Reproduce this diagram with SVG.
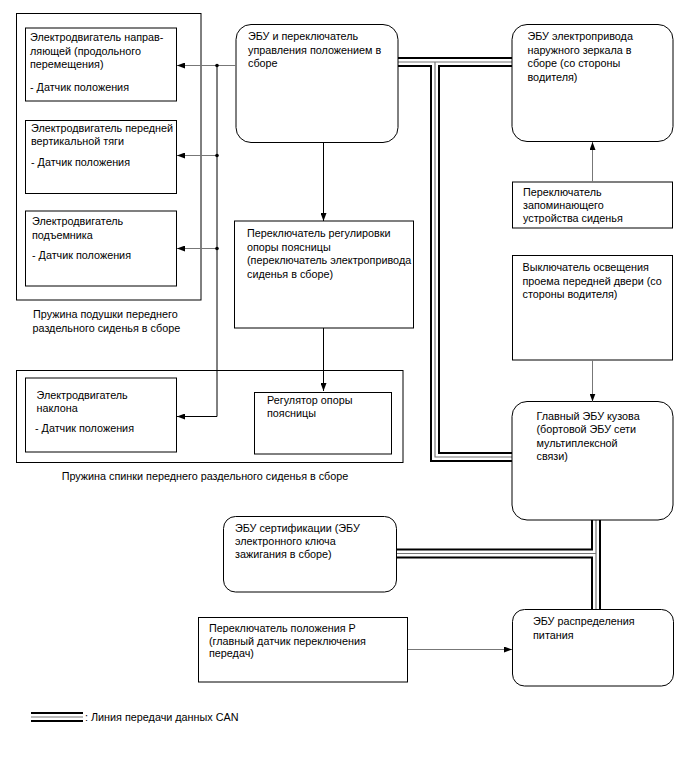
<svg xmlns="http://www.w3.org/2000/svg" width="691" height="757" viewBox="0 0 691 757">
<defs>
<style>
.box{fill:#fff;stroke:#000;stroke-width:1}
.frame{fill:none;stroke:#000;stroke-width:1}
.t{font-family:"Liberation Sans",Arial,sans-serif;font-size:10.8px;fill:#000}
.ln{fill:none;stroke:#000;stroke-width:1}
.lg{fill:none;stroke:#777;stroke-width:1}
.canO{fill:none;stroke:#000;stroke-width:10}
.canW{fill:none;stroke:#fff;stroke-width:6}
.canC{fill:none;stroke:#777;stroke-width:1.2}
</style>
<marker id="ah" viewBox="0 0 8 6" refX="8" refY="3" markerWidth="8" markerHeight="6" markerUnits="userSpaceOnUse" orient="auto"><path d="M0,0 L8,3 L0,6 Z" fill="#000"/></marker>
</defs>
<rect width="691" height="757" fill="#fff"/>

<g id="can-bus">
<path class="canO" d="M398,62 H512 M435,62 V457 H512 M397,553.5 H596 M596,520 V610"/>
<path class="canW" d="M398,62 H512 M435,62 V457 H512 M397,553.5 H596 M596,520 V610"/>
<path class="canC" d="M398,62 H512 M435,62 V457 H512 M397,553.5 H596 M596,520 V610"/>
</g>

<g id="cushion-assembly">
<rect class="frame" x="16.5" y="13.5" width="184.5" height="286.5"/>
<text class="t" x="33" y="318">Пружина подушки переднего</text>
<text class="t" x="32.5" y="332">раздельного сиденья в сборе</text>
</g>

<g id="slide-motor">
<rect class="box" x="25.5" y="28" width="151" height="73"/>
<text class="t" x="30" y="41">Электродвигатель направ-</text>
<text class="t" x="30" y="54.5">ляющей (продольного</text>
<text class="t" x="30" y="67.5">перемещения)</text>
<text class="t" x="30" y="91">- Датчик положения</text>
</g>

<g id="front-vertical-motor">
<rect class="box" x="25.5" y="120.5" width="151" height="73"/>
<text class="t" x="31" y="132">Электродвигатель передней</text>
<text class="t" x="31" y="145">вертикальной тяги</text>
<text class="t" x="31" y="166">- Датчик положения</text>
</g>

<g id="lifter-motor">
<rect class="box" x="25.5" y="211" width="151" height="75"/>
<text class="t" x="32" y="225">Электродвигатель</text>
<text class="t" x="32" y="238.5">подъемника</text>
<text class="t" x="32" y="258.5">- Датчик положения</text>
</g>

<g id="position-ecu">
<rect class="box" x="236" y="24.5" width="162" height="118" rx="15"/>
<text class="t" x="248" y="40">ЭБУ и переключатель</text>
<text class="t" x="248" y="54">управления положением в</text>
<text class="t" x="248" y="67">сборе</text>
</g>

<g id="lumbar-switch">
<rect class="box" x="234.5" y="221" width="179" height="107"/>
<text class="t" x="247" y="237">Переключатель регулировки</text>
<text class="t" x="247" y="250.5">опоры поясницы</text>
<text class="t" x="247" y="264">(переключатель электропривода</text>
<text class="t" x="247" y="277.5">сиденья в сборе)</text>
</g>

<g id="back-assembly">
<rect class="frame" x="16.5" y="370.5" width="386.5" height="92"/>
<text class="t" x="205" y="480" text-anchor="middle">Пружина спинки переднего раздельного сиденья в сборе</text>
</g>

<g id="recline-motor">
<rect class="box" x="25.5" y="378" width="151" height="74"/>
<text class="t" x="36.5" y="398.5">Электродвигатель</text>
<text class="t" x="36.5" y="412">наклона</text>
<text class="t" x="35" y="432">- Датчик положения</text>
</g>

<g id="lumbar-regulator">
<rect class="box" x="254.5" y="392.5" width="137" height="61.5"/>
<text class="t" x="267" y="403.5">Регулятор опоры</text>
<text class="t" x="267" y="417">поясницы</text>
</g>

<g id="mirror-ecu">
<rect class="box" x="512" y="24.5" width="161" height="117" rx="15"/>
<text class="t" x="527.5" y="40">ЭБУ электропривода</text>
<text class="t" x="527.5" y="54">наружного зеркала в</text>
<text class="t" x="527.5" y="67">сборе (со стороны</text>
<text class="t" x="527.5" y="80.5">водителя)</text>
</g>

<g id="memory-switch">
<rect class="box" x="512.5" y="182" width="160" height="46"/>
<text class="t" x="523" y="195.5">Переключатель</text>
<text class="t" x="523" y="209">запоминающего</text>
<text class="t" x="523" y="221.5">устройства сиденья</text>
</g>

<g id="door-switch">
<rect class="box" x="512.5" y="255.5" width="160" height="104.5"/>
<text class="t" x="522.5" y="270.5">Выключатель освещения</text>
<text class="t" x="522.5" y="284.5">проема передней двери (со</text>
<text class="t" x="522.5" y="298">стороны водителя)</text>
</g>

<g id="main-body-ecu">
<rect class="box" x="512" y="401.5" width="161" height="118.5" rx="15"/>
<text class="t" x="536.5" y="419.5">Главный ЭБУ кузова</text>
<text class="t" x="536.5" y="433">(бортовой ЭБУ сети</text>
<text class="t" x="536.5" y="446.5">мультиплексной</text>
<text class="t" x="536.5" y="460">связи)</text>
</g>

<g id="certification-ecu">
<rect class="box" x="223.5" y="516.5" width="173" height="75.5" rx="12"/>
<text class="t" x="235" y="532">ЭБУ сертификации (ЭБУ</text>
<text class="t" x="235" y="545">электронного ключа</text>
<text class="t" x="235" y="558">зажигания в сборе)</text>
</g>

<g id="p-switch">
<rect class="box" x="198.5" y="617.5" width="209" height="64.5"/>
<text class="t" x="209" y="632">Переключатель положения P</text>
<text class="t" x="209" y="644.5">(главный датчик переключения</text>
<text class="t" x="209" y="657">передач)</text>
</g>

<g id="power-ecu">
<rect class="box" x="512.5" y="609.5" width="161" height="76.5" rx="12"/>
<text class="t" x="533" y="625">ЭБУ распределения</text>
<text class="t" x="533" y="638.5">питания</text>
</g>

<g id="connectors">
<path class="lg" d="M236,65.5 H177" marker-end="url(#ah)"/>
<path class="lg" d="M217,155.5 H177" marker-end="url(#ah)"/>
<path class="lg" d="M217,248.5 H177" marker-end="url(#ah)"/>
<path class="ln" d="M217,65.5 V416.5 H177" marker-end="url(#ah)"/>
<circle cx="217" cy="65.5" r="1.8" fill="#000"/>
<circle cx="217" cy="155.5" r="1.8" fill="#000"/>
<circle cx="217" cy="248.5" r="1.8" fill="#000"/>
<path class="ln" d="M323.5,143 V221" marker-end="url(#ah)"/>
<path class="ln" d="M323.5,328 V391" marker-end="url(#ah)"/>
<path class="lg" d="M592.5,182 V142" marker-end="url(#ah)"/>
<path class="lg" d="M592.5,360 V401.5" marker-end="url(#ah)"/>
<path class="lg" d="M408,649.5 H512" marker-end="url(#ah)"/>
</g>

<g id="legend">
<path class="canO" d="M31,717 H83"/>
<path class="canW" d="M31,717 H83"/>
<path class="canC" d="M31,717 H83"/>
<text class="t" x="85" y="721">: Линия передачи данных CAN</text>
</g>
</svg>
